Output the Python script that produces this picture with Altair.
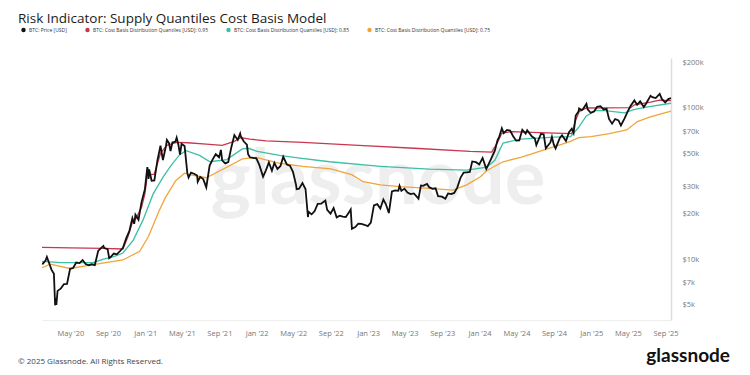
import altair as alt
import pandas as pd

TITLE = "Risk Indicator: Supply Quantiles Cost Basis Model"
SERIES = [
    "BTC: Price [USD]",
    "BTC: Cost Basis Distribution Quantiles [USD]: 0.95",
    "BTC: Cost Basis Distribution Quantiles [USD]: 0.85",
    "BTC: Cost Basis Distribution Quantiles [USD]: 0.75",
]
COLORS = ["#111111", "#c8374f", "#3dbfa3", "#f0a53a"]

PRICE_DATES = [
    "2020-01-29", "2020-02-01", "2020-02-10", "2020-02-14", "2020-02-20", "2020-02-29",
    "2020-03-08", "2020-03-12", "2020-03-13", "2020-03-16", "2020-03-20", "2020-03-31",
    "2020-04-10", "2020-04-20", "2020-04-30", "2020-05-10", "2020-05-20", "2020-05-31",
    "2020-06-10", "2020-06-20", "2020-06-30", "2020-07-10", "2020-07-20", "2020-07-31",
    "2020-08-10", "2020-08-17", "2020-08-20", "2020-08-31", "2020-09-05", "2020-09-10",
    "2020-09-20", "2020-09-30", "2020-10-10", "2020-10-20", "2020-10-31", "2020-11-10",
    "2020-11-20", "2020-11-26", "2020-11-30", "2020-12-10", "2020-12-20", "2020-12-31",
    "2021-01-08", "2021-01-10", "2021-01-12", "2021-01-14", "2021-01-22", "2021-01-31",
    "2021-02-10", "2021-02-20", "2021-02-28", "2021-03-10", "2021-03-13", "2021-03-20",
    "2021-03-25", "2021-03-31", "2021-04-10", "2021-04-14", "2021-04-20", "2021-04-25",
    "2021-04-30", "2021-05-10", "2021-05-19", "2021-05-23", "2021-05-31", "2021-06-10",
    "2021-06-20", "2021-06-22", "2021-06-30", "2021-07-10", "2021-07-20", "2021-07-31",
    "2021-08-10", "2021-08-20", "2021-08-31", "2021-09-06", "2021-09-10", "2021-09-20",
    "2021-09-30", "2021-10-10", "2021-10-20", "2021-10-31", "2021-11-08", "2021-11-10",
    "2021-11-20", "2021-11-30", "2021-12-04", "2021-12-10", "2021-12-20", "2021-12-31",
    "2022-01-10", "2022-01-22", "2022-01-31", "2022-02-10", "2022-02-20", "2022-02-28",
    "2022-03-10", "2022-03-20", "2022-03-29", "2022-04-10", "2022-04-20", "2022-04-30",
    "2022-05-10", "2022-05-12", "2022-05-20", "2022-05-31", "2022-06-10", "2022-06-18",
    "2022-06-20", "2022-06-30", "2022-07-10", "2022-07-20", "2022-07-31", "2022-08-14",
    "2022-08-20", "2022-08-31", "2022-09-10", "2022-09-20", "2022-09-30", "2022-10-10",
    "2022-10-20", "2022-10-31", "2022-11-05", "2022-11-09", "2022-11-20", "2022-11-30",
    "2022-12-10", "2022-12-20", "2022-12-31", "2023-01-10", "2023-01-20", "2023-01-31",
    "2023-02-10", "2023-02-20", "2023-02-28", "2023-03-10", "2023-03-20", "2023-03-31",
    "2023-04-10", "2023-04-14", "2023-04-20", "2023-04-30", "2023-05-10", "2023-05-20",
    "2023-05-31", "2023-06-10", "2023-06-15", "2023-06-23", "2023-06-30", "2023-07-13",
    "2023-07-20", "2023-07-31", "2023-08-10", "2023-08-18", "2023-08-31", "2023-09-11",
    "2023-09-20", "2023-09-30", "2023-10-10", "2023-10-20", "2023-10-31", "2023-11-10",
    "2023-11-20", "2023-11-30", "2023-12-08", "2023-12-20", "2023-12-31", "2024-01-11",
    "2024-01-23", "2024-01-31", "2024-02-10", "2024-02-20", "2024-02-29", "2024-03-05",
    "2024-03-14", "2024-03-20", "2024-03-31", "2024-04-10", "2024-04-20", "2024-04-30",
    "2024-05-10", "2024-05-20", "2024-05-31", "2024-06-05", "2024-06-20", "2024-06-30",
    "2024-07-05", "2024-07-20", "2024-07-29", "2024-08-05", "2024-08-20", "2024-08-25",
    "2024-08-31", "2024-09-06", "2024-09-20", "2024-09-27", "2024-10-10", "2024-10-20",
    "2024-10-29", "2024-11-04", "2024-11-11", "2024-11-20", "2024-11-22", "2024-11-30",
    "2024-12-05", "2024-12-16", "2024-12-20", "2024-12-30", "2025-01-10", "2025-01-20",
    "2025-01-31", "2025-02-10", "2025-02-20", "2025-02-28", "2025-03-10", "2025-03-20",
    "2025-03-31", "2025-04-08", "2025-04-20", "2025-04-30", "2025-05-10", "2025-05-22",
    "2025-05-31", "2025-06-10", "2025-06-22", "2025-06-30", "2025-07-10", "2025-07-14",
    "2025-07-20", "2025-07-31", "2025-08-13", "2025-08-20", "2025-08-31", "2025-09-10",
    "2025-09-19",
]
PRICE_VALUES = [
    9390, 9350, 9850, 10360, 9600, 8550,
    8040, 4970, 5560, 5010, 6190, 6430,
    6870, 6880, 8660, 8760, 9520, 9450,
    9890, 9300, 9140, 9270, 9160, 11350,
    11900, 12250, 11870, 11680, 10170, 10350,
    10920, 10780, 11300, 11920, 13800, 15330,
    18680, 17150, 19700, 18260, 23850, 28990,
    40600, 38360, 33900, 39200, 33000, 33100,
    44900, 56100, 45200, 55900, 61200, 58300,
    51700, 58900, 59800, 63500, 56500, 49100,
    57700, 55800, 37000, 34600, 37300, 36700,
    35700, 32500, 35000, 33800, 29800, 41500,
    45600, 49300, 47100, 52700, 45000, 42900,
    43800, 54700, 66000, 61300, 67500, 64900,
    59800, 57000, 49400, 47100, 46700, 46300,
    41800, 35100, 38500, 43600, 38400, 43200,
    39400, 41300, 47400, 42200, 41500, 37700,
    31000, 29000, 29200, 31800, 29100, 19000,
    20600, 19800, 20800, 23200, 23300, 24400,
    21200, 20000, 21800, 18900, 19400, 19100,
    19000, 20500, 21300, 15900, 16300, 17200,
    17100, 16900, 16550, 17450, 22700, 23100,
    21650, 24800, 23150, 20200, 28000, 28500,
    28300, 30500, 28250, 29250, 27600, 26900,
    27200, 25800, 25100, 30700, 30500, 31400,
    29900, 29200, 29400, 26100, 25900, 25100,
    27200, 26950, 27400, 29700, 34600, 37300,
    37500, 37700, 44200, 43700, 42300, 46600,
    39500, 42600, 47100, 52000, 61200, 63800,
    73100, 67900, 71300, 70600, 64900, 60600,
    60800, 71400, 67500, 71100, 64800, 62700,
    56700, 67200, 66800, 54000, 59000, 64200,
    57300, 53900, 63200, 65800, 60300, 69000,
    72700, 68000, 88700, 94300, 98900, 96400,
    98000, 106100, 97600, 92600, 94500, 101500,
    102400, 97400, 98300, 84300, 78500, 84200,
    82500, 76300, 85100, 94200, 103000, 111700,
    104600, 110200, 100900, 107100, 116000, 119800,
    117400, 115700, 123300, 114300, 108200, 113900,
    115700,
]

Q95_DATES = [
    "2020-01-29", "2020-05-01", "2020-08-15", "2020-10-20", "2020-11-05", "2020-11-20",
    "2020-12-01", "2020-12-20", "2020-12-31", "2021-01-08", "2021-01-31", "2021-02-20",
    "2021-03-13", "2021-04-14", "2021-05-20", "2021-07-20", "2021-09-10", "2021-10-20",
    "2021-11-10", "2021-12-10", "2022-02-01", "2022-06-01", "2022-12-01", "2023-06-01",
    "2023-12-01", "2024-02-10", "2024-02-29", "2024-03-14", "2024-04-15", "2024-07-15",
    "2024-10-29", "2024-11-11", "2024-11-22", "2024-12-16", "2025-02-15", "2025-05-10",
    "2025-05-22", "2025-07-14", "2025-08-13", "2025-09-19",
]
Q95_VALUES = [
    12000, 11900, 11800, 11700, 14000, 17500,
    18500, 22000, 27000, 36000, 36500, 50000,
    56500, 59000, 58700, 57500, 56500, 60000,
    63500, 62000, 60500, 59000, 56500, 54000,
    51500, 51000, 59000, 68000, 69500, 68500,
    67500, 83000, 94000, 99500, 99800, 100000,
    104500, 109000, 112000, 111500,
]

Q85_DATES = [
    "2020-01-29", "2020-04-01", "2020-07-15", "2020-08-15", "2020-09-20", "2020-10-20",
    "2020-11-23", "2020-12-25", "2021-01-27", "2021-03-01", "2021-03-28", "2021-04-24",
    "2021-05-15", "2021-06-28", "2021-08-01", "2021-09-25", "2021-11-15", "2021-12-05",
    "2022-01-03", "2022-03-17", "2022-05-22", "2022-08-28", "2023-02-10", "2023-07-21",
    "2023-11-20", "2024-01-25", "2024-02-20", "2024-03-18", "2024-05-15", "2024-09-01",
    "2024-10-25", "2024-11-20", "2024-12-15", "2025-01-15", "2025-02-15", "2025-04-20",
    "2025-05-20", "2025-06-30", "2025-09-19",
]
Q85_VALUES = [
    9700, 9500, 9500, 10000, 10400, 11000,
    13400, 18200, 27000, 35000, 42000, 49000,
    52000, 48500, 44000, 45500, 53500, 54000,
    51500, 48500, 46500, 44000, 41000, 39300,
    38800, 40500, 45000, 58500, 62000, 64000,
    64500, 74000, 88000, 96000, 95500, 92500,
    97000, 101000, 107000,
]

Q75_DATES = [
    "2020-01-29", "2020-02-25", "2020-04-30", "2020-07-25", "2020-10-20", "2020-12-14",
    "2021-01-12", "2021-02-16", "2021-03-08", "2021-04-11", "2021-05-10", "2021-06-15",
    "2021-07-20", "2021-09-25", "2021-11-15", "2021-12-31", "2022-03-17", "2022-06-01",
    "2022-09-01", "2022-11-10", "2022-12-16", "2023-02-10", "2023-04-15", "2023-07-21",
    "2023-10-06", "2023-11-20", "2024-01-04", "2024-01-25", "2024-03-18", "2024-05-15",
    "2024-07-15", "2024-09-15", "2024-10-25", "2024-11-20", "2024-12-31", "2025-03-01",
    "2025-04-27", "2025-06-01", "2025-07-13", "2025-09-19",
]
Q75_VALUES = [
    8800, 9300, 8700, 9300, 9900, 11300,
    14200, 21000, 25500, 33000, 37000, 35500,
    34500, 40500, 46000, 47000, 43000, 41000,
    39500, 36000, 32500, 31000, 30200, 29400,
    28600, 31000, 35000, 38500, 44000, 47000,
    51500, 56500, 60000, 63500, 64500, 67500,
    71300, 81000, 87000, 95000,
]

X_TICKS = [(2020, 5), (2020, 9), (2021, 1), (2021, 5), (2021, 9), (2022, 1), (2022, 5),
           (2022, 9), (2023, 1), (2023, 5), (2023, 9), (2024, 1), (2024, 5), (2024, 9),
           (2025, 1), (2025, 5), (2025, 9)]
Y_TICKS = [5000, 7000, 10000, 20000, 30000, 50000, 70000, 100000, 200000]
X_DOMAIN = [(2020, 1, 29), (2025, 9, 19)]
Y_DOMAIN = [3978, 212700]

FONT = "Open Sans"


def long(dates, values, name):
    return pd.DataFrame({"date": pd.to_datetime(dates), "value": values, "series": name})


price_df = long(PRICE_DATES, PRICE_VALUES, SERIES[0])
q95_df = long(Q95_DATES, Q95_VALUES, SERIES[1])
q85_df = long(Q85_DATES, Q85_VALUES, SERIES[2])
q75_df = long(Q75_DATES, Q75_VALUES, SERIES[3])

x_enc = alt.X(
    "date:T",
    scale=alt.Scale(domain=[alt.DateTime(year=y, month=m, date=d) for y, m, d in X_DOMAIN]),
    axis=alt.Axis(
        values=[alt.DateTime(year=y, month=m, date=1) for y, m in X_TICKS],
        format="%b '%y", title=None, grid=False, ticks=False,
        domainColor="#eeeeee", domainWidth=1, labelPadding=9,
        labelFontSize=7.5, labelColor="#777777", labelFont=FONT,
        labelOverlap=False, labelFlush=False,
    ),
)
y_enc = alt.Y(
    "value:Q",
    scale=alt.Scale(type="log", domain=Y_DOMAIN, nice=False),
    axis=alt.Axis(
        orient="right", values=Y_TICKS, labelExpr="'$' + datum.value / 1000 + 'k'",
        title=None, grid=False, ticks=False, domainColor="#dddddd", domainWidth=1.5,
        labelPadding=11, labelFontSize=7.5, labelColor="#777777", labelFont=FONT,
        labelOverlap=False, labelFlush=False,
    ),
)
color_enc = alt.Color(
    "series:N",
    scale=alt.Scale(domain=SERIES, range=COLORS),
    legend=alt.Legend(
        orient="none", legendX=-21, legendY=-31, direction="horizontal", title=None,
        symbolType="circle", symbolSize=5, symbolStrokeWidth=2.2, labelFontSize=5,
        labelFont=FONT, labelColor="#333333", columnPadding=14, padding=0,
        labelOffset=3, symbolOpacity=1,
    ),
)


def line(df, width):
    return alt.Chart(df).mark_line(strokeWidth=width).encode(x=x_enc, y=y_enc, color=color_enc)


watermark = alt.Chart(pd.DataFrame({"t": ["glassnode"]})).mark_text(
    font="Lato", fontSize=76, fontWeight="bold", color="#eeeeee", align="center",
    baseline="alphabetic",
).encode(text="t:N", x=alt.value(336), y=alt.value(146))

title = alt.Chart(pd.DataFrame({"t": [TITLE]})).mark_text(
    font=FONT, fontSize=13.5, color="#1a1a1a", align="left", baseline="alphabetic",
).encode(text="t:N", x=alt.value(-24), y=alt.value(-35))

footer = alt.Chart(pd.DataFrame({"t": ["\u00a9 2025 Glassnode. All Rights Reserved."]})).mark_text(
    font=FONT, fontSize=8, color="#444444", align="left", baseline="bottom",
).encode(text="t:N", x=alt.value(-24), y=alt.value(308))

logo = alt.Chart(pd.DataFrame({"t": ["glassnode"]})).mark_text(
    font="Lato", fontSize=19, fontWeight="bold", color="#111111", align="right",
    baseline="bottom",
).encode(text="t:N", x=alt.value(688), y=alt.value(308))

chart = alt.layer(
    watermark,
    line(q75_df, 1.3),
    line(q85_df, 1.3),
    line(q95_df, 1.3),
    line(price_df, 1.8),
    title,
    footer,
    logo,
).properties(
    width=629, height=262,
    autosize=alt.AutoSizeParams(type="none"),
    padding={"left": 34, "top": 50, "right": 71, "bottom": 47},
    background="white",
).configure_view(stroke=None)

chart.save("out.html", embed_options={"renderer": "svg", "actions": False})
